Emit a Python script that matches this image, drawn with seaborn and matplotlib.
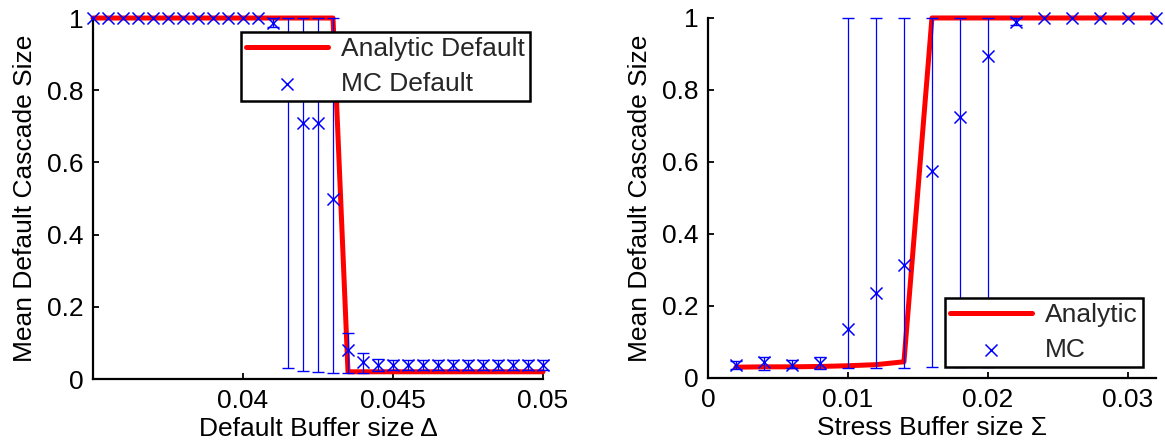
import matplotlib
matplotlib.use("Agg")
import matplotlib.pyplot as plt
import numpy as np
import pandas as pd
import seaborn as sns

# ---------------- data ----------------
left_x = [0.0350, 0.0355, 0.0360, 0.0365, 0.0370, 0.0375, 0.0380, 0.0385,
          0.0390, 0.0395, 0.0400, 0.0405, 0.0410, 0.0415, 0.0420, 0.0425,
          0.0430, 0.0435, 0.0440, 0.0445, 0.0450, 0.0455, 0.0460, 0.0465,
          0.0470, 0.0475, 0.0480, 0.0485, 0.0490, 0.0495, 0.0500]
left_analytic = [1, 1, 1, 1, 1, 1, 1, 1, 1, 1, 1, 1, 1, 1, 1, 1, 1,
                 0.02, 0.02, 0.02, 0.02, 0.02, 0.02, 0.02, 0.02, 0.02,
                 0.02, 0.02, 0.02, 0.02, 0.02]
left_mc = [1, 1, 1, 1, 1, 1, 1, 1, 1, 1, 1, 1, 0.985, 0.86, 0.71, 0.71,
           0.50, 0.08, 0.048, 0.04, 0.04, 0.04, 0.04, 0.04, 0.04, 0.04,
           0.04, 0.04, 0.04, 0.04, 0.04]
left_lo = [1, 1, 1, 1, 1, 1, 1, 1, 1, 1, 1, 1, 0.975, 0.03, 0.022, 0.02,
           0.017, 0.017, 0.017, 0.022, 0.026, 0.026, 0.026, 0.026, 0.026,
           0.026, 0.026, 0.026, 0.026, 0.026, 0.026]
left_hi = [1, 1, 1, 1, 1, 1, 1, 1, 1, 1, 1, 1, 1.0, 1.0, 1.0, 1.0,
           1.0, 0.127, 0.072, 0.055, 0.054, 0.054, 0.054, 0.054, 0.054,
           0.054, 0.054, 0.054, 0.054, 0.054, 0.054]

right_x = [0.002, 0.004, 0.006, 0.008, 0.010, 0.012, 0.014, 0.016,
           0.018, 0.020, 0.022, 0.024, 0.026, 0.028, 0.030, 0.032]
right_analytic = [0.030, 0.031, 0.031, 0.032, 0.034, 0.037, 0.045, 1,
                  1, 1, 1, 1, 1, 1, 1, 1]
right_mc = [0.036, 0.045, 0.036, 0.043, 0.136, 0.235, 0.314, 0.576,
            0.726, 0.894, 0.99, 1, 1, 1, 1, 1]
right_lo = [0.026, 0.022, 0.028, 0.025, 0.027, 0.027, 0.027, 0.031,
            0.03, 0.03, 0.98, 1, 1, 1, 1, 1]
right_hi = [0.046, 0.058, 0.05, 0.059, 1, 1, 1, 1,
            1, 1, 1.0, 1, 1, 1, 1, 1]

y_ticks = [0, 0.2, 0.4, 0.6, 0.8, 1]
y_ticklabels = ["0", "0.2", "0.4", "0.6", "0.8", "1"]
left_xticks = [0.04, 0.045, 0.05]
left_xticklabels = ["0.04", "0.045", "0.05"]
right_xticks = [0, 0.01, 0.02, 0.03]
right_xticklabels = ["0", "0.01", "0.02", "0.03"]

# ---------------- style ----------------
sns.set_theme(style="white")
plt.rcParams["font.family"] = ["Liberation Sans", "DejaVu Sans"]
FS = 19
RED = "#ff0000"
BLUE = "#0000ff"

fig = plt.figure(figsize=(11.65, 4.46), dpi=100)
ax1 = fig.add_axes([0.0798, 0.1502, 0.3863, 0.8094])
ax2 = fig.add_axes([0.6077, 0.1525, 0.3845, 0.8072])


def panel(ax, x, ana, mc, lo, hi, lab_a, lab_m, xlim, xticks, xtl, xlabel,
          legloc, legbbox):
    df = pd.DataFrame({"x": x, "analytic": ana, "mc": mc, "lo": lo, "hi": hi})
    sns.lineplot(data=df, x="x", y="analytic", ax=ax, color=RED, lw=3.6,
                 label=lab_a, zorder=2, clip_on=False)
    m = (df["hi"] - df["lo"]) > 1e-9
    ax.errorbar(df.loc[m, "x"], df.loc[m, "mc"],
                yerr=[df.loc[m, "mc"] - df.loc[m, "lo"],
                      df.loc[m, "hi"] - df.loc[m, "mc"]],
                fmt="none", ecolor=BLUE, elinewidth=0.9, capsize=4.5,
                capthick=1.0, zorder=3, clip_on=False)
    sns.scatterplot(data=df, x="x", y="mc", ax=ax, marker="x", color=BLUE,
                    s=75, linewidth=1.1, label=lab_m, zorder=4, clip_on=False)
    ax.set_xlim(*xlim)
    ax.set_ylim(0, 1)
    ax.set_xticks(xticks)
    ax.set_xticklabels(xtl)
    ax.set_yticks(y_ticks)
    ax.set_yticklabels(y_ticklabels)
    ax.set_xlabel(xlabel, fontsize=FS, labelpad=3, color="black")
    ax.set_ylabel("Mean Default Cascade Size", fontsize=FS, labelpad=7,
                  color="black")
    for s in ["top", "right"]:
        ax.spines[s].set_visible(False)
    for s in ["left", "bottom"]:
        ax.spines[s].set_color("black")
        ax.spines[s].set_linewidth(1.6)
    ax.tick_params(direction="in", length=4, width=1.3, colors="black",
                   labelsize=FS, pad=7, left=True, bottom=True)
    leg = ax.legend(loc=legloc, bbox_to_anchor=legbbox, borderaxespad=0,
                    fontsize=FS, frameon=True, fancybox=False,
                    handlelength=3.1, handletextpad=0.5, labelspacing=0.4,
                    borderpad=0.2, framealpha=1)
    leg.get_frame().set_edgecolor("black")
    leg.get_frame().set_linewidth(1.8)
    leg.set_zorder(10)


panel(ax1, left_x, left_analytic, left_mc, left_lo, left_hi,
      "Analytic Default", "MC Default", (0.035, 0.05), left_xticks,
      left_xticklabels, "Default Buffer size \u0394", "upper right",
      (0.971, 0.961))
panel(ax2, right_x, right_analytic, right_mc, right_lo, right_hi,
      "Analytic", "MC", (0, 0.032), right_xticks, right_xticklabels,
      "Stress Buffer size \u03a3", "lower right", (0.971, 0.031))

fig.savefig("out.png", dpi=100)
